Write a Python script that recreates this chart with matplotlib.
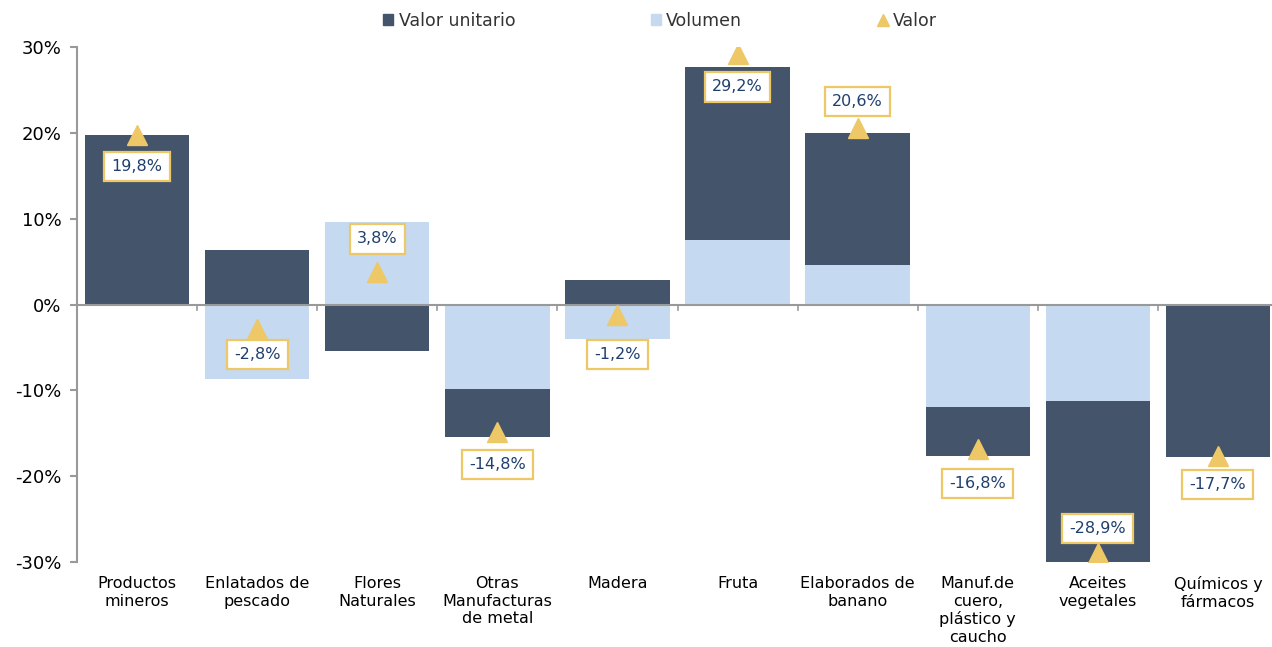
import numpy as np
import matplotlib.pyplot as plt
from matplotlib.patches import Patch
from matplotlib.lines import Line2D

plt.rcParams['font.family'] = ['DejaVu Sans']

# Data (percent change)
categorias = ['Productos\nmineros', 'Enlatados de\npescado', 'Flores\nNaturales',
              'Otras\nManufacturas\nde metal', 'Madera', 'Fruta', 'Elaborados de\nbanano',
              'Manuf.de\ncuero,\nplástico y\ncaucho', 'Aceites\nvegetales', 'Químicos y\nfármacos']
valor_unitario = [19.8, 6.3, -5.4, -5.6, 2.8, 20.2, 15.4, -5.8, -19.5, -17.8]
volumen = [0.0, -8.7, 9.6, -9.8, -4.0, 7.5, 4.6, -11.9, -11.2, 0.0]
valor = [19.8, -2.8, 3.8, -14.8, -1.2, 29.2, 20.6, -16.8, -28.9, -17.7]
etiquetas = ['19,8%', '-2,8%', '3,8%', '-14,8%', '-1,2%', '29,2%', '20,6%', '-16,8%', '-28,9%', '-17,7%']

c_dark = '#44546A'
c_light = '#C5D9F0'
c_gold = '#EEC866'
c_text = '#1F3F6E'

fig = plt.figure(figsize=(12.72, 6.47), dpi=100)
ax = fig.add_axes([77 / 1272, 1 - 562 / 647, 1201 / 1272, 515 / 647])

x = np.arange(len(categorias))
w = 0.87
vol = np.array(volumen)
vu = np.array(valor_unitario)
# valor unitario stacks on volumen when same sign
vu_bottom = np.where(np.sign(vu) == np.sign(vol), vol, 0)

ax.bar(x, vol, w, color=c_light, zorder=2)
ax.bar(x, vu, w, bottom=vu_bottom, color=c_dark, zorder=2)
ax.plot(x, valor, linestyle='none', marker='^', markersize=15, color=c_gold, zorder=4)

# label offsets in pixels (positive = up)
offs = [-32, -26, 33, -33, -40, -33, 26, -35, 24, -28]
for xi, v, lab, o in zip(x, valor, etiquetas, offs):
    ax.annotate(lab, (xi, v), xytext=(0, o * 0.72), textcoords='offset points',
                ha='center', va='center', fontsize=11.5, color=c_text, zorder=5,
                bbox=dict(boxstyle='square,pad=0.45', fc='white', ec=c_gold, lw=1.6))

ax.set_xlim(-0.5, len(categorias) - 0.5)
ax.set_ylim(-30, 30)
ax.set_yticks([-30, -20, -10, 0, 10, 20, 30])
ax.set_yticklabels(['-30%', '-20%', '-10%', '0%', '10%', '20%', '30%'], fontsize=13)

ax.axhline(0, color='#999999', lw=1.5, zorder=3)
for xb in x[:-1] + 0.5:
    ax.plot([xb, xb], [0, -0.6], color='#999999', lw=1.2, zorder=3)

ax.set_xticks(x)
ax.set_xticklabels(categorias, fontsize=11.5, va='top', linespacing=1.22)
ax.tick_params(axis='x', length=0, pad=10)
ax.tick_params(axis='y', length=5, color='#999999', width=1.5, pad=6)

for s in ['top', 'right', 'bottom']:
    ax.spines[s].set_visible(False)
ax.spines['left'].set_color('#999999')
ax.spines['left'].set_linewidth(1.5)

handles = [Patch(color=c_dark, label='Valor unitario'),
           Patch(color=c_light, label='Volumen'),
           Line2D([], [], linestyle='none', marker='^', color=c_gold, markersize=8, label='Valor')]
fig.legend(handles=handles, loc='center', bbox_to_anchor=(0.519, 0.968), ncol=3,
           frameon=False, fontsize=12.5, handlelength=0.6, handleheight=0.6,
           handletextpad=0.3, columnspacing=7.8, labelcolor='#333333')

fig.savefig('out.png', dpi=100)
